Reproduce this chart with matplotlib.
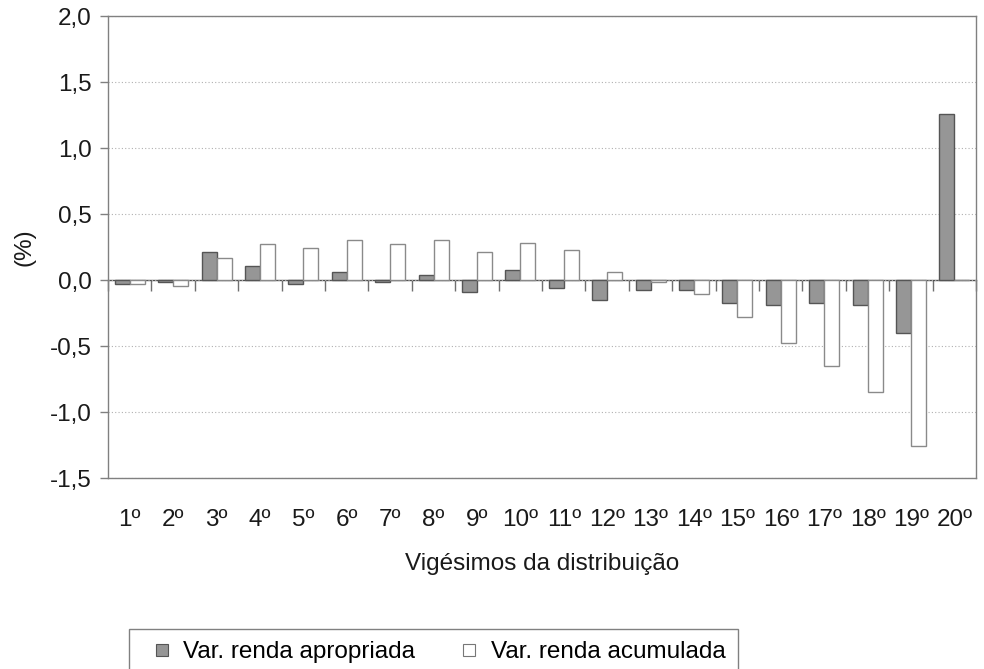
import numpy as np
import matplotlib.pyplot as plt
from matplotlib.lines import Line2D
from matplotlib.ticker import FuncFormatter

plt.rcParams['font.family'] = ['Liberation Sans', 'DejaVu Sans']

# data
categorias = [f"{i}º" for i in range(1, 21)]
apropriada = [-0.03, -0.015, 0.21, 0.105, -0.03, 0.06, -0.015, 0.035, -0.09, 0.077,
              -0.06, -0.15, -0.075, -0.075, -0.175, -0.19, -0.175, -0.19, -0.405, 1.26]
acumulada = [-0.03, -0.045, 0.165, 0.27, 0.24, 0.30, 0.27, 0.30, 0.21, 0.28,
             0.225, 0.06, -0.015, -0.105, -0.28, -0.48, -0.655, -0.845, -1.26, 0.0]
series = ["Var. renda apropriada", "Var. renda acumulada"]

FS = 17.5
DARK = "#969696"

fig = plt.figure(figsize=(9.84, 6.69), dpi=100)
ax = fig.add_axes([0.1098, 0.2855, 0.8821, 0.6905])

x = np.arange(len(categorias))
w = 0.345
ax.bar(x - w / 2, apropriada, w, color=DARK, edgecolor="#555555", linewidth=1, zorder=3)
ax.bar(x + w / 2, acumulada, w, color="white", edgecolor="#8a8a8a", linewidth=1, zorder=3)

ax.set_xlim(-0.5, len(categorias) - 0.5)
ax.set_ylim(-1.5, 2.0)
ax.set_yticks(np.arange(-1.5, 2.01, 0.5))
ax.yaxis.set_major_formatter(FuncFormatter(lambda v, p: f"{v:.1f}".replace(".", ",")))
ax.grid(axis="y", linestyle=(0, (1, 2)), color="#b0b0b0", linewidth=0.8, zorder=0)

for s in ax.spines.values():
    s.set_color("#808080")
    s.set_linewidth(1)

ax.set_xticks(x)
ax.set_xticklabels(categorias)
ax.tick_params(axis="x", length=0, pad=22, labelsize=FS, colors="#1a1a1a")
ax.tick_params(axis="y", length=6, width=1, color="#808080", labelsize=FS,
               labelcolor="#1a1a1a", pad=6)

# zero line with category tick marks
zero = (0 - (-1.5)) / 3.5
sec = ax.secondary_xaxis(zero)
sec.set_xticks(np.arange(-0.5, len(categorias), 1.0))
sec.tick_params(axis="x", direction="out", length=8, width=1, color="#707070",
                labelbottom=False, labeltop=False, bottom=True, top=False)
sec.spines["bottom"].set_color("#505050")
sec.spines["bottom"].set_linewidth(1)
sec.spines["top"].set_visible(False)

ax.set_xlabel("Vigésimos da distribuição", fontsize=FS, labelpad=16, color="#1a1a1a")
ax.set_ylabel("(%)", fontsize=FS, labelpad=10, color="#1a1a1a")

handles = [
    Line2D([], [], linestyle="none", marker="s", markersize=8.6,
           markerfacecolor=DARK, markeredgecolor="#555555", markeredgewidth=0.8),
    Line2D([], [], linestyle="none", marker="s", markersize=8.0,
           markerfacecolor="white", markeredgecolor="#777777", markeredgewidth=0.8),
]
leg = fig.legend(handles, series, loc="upper left", bbox_to_anchor=(0.131, 0.060),
                 ncol=2, fontsize=FS, fancybox=False, edgecolor="#808080",
                 framealpha=1, handlelength=1.69, handletextpad=0.05,
                 columnspacing=1.36, borderpad=0.5, borderaxespad=0)
leg.get_frame().set_linewidth(1)

fig.savefig("out.png", dpi=100)
